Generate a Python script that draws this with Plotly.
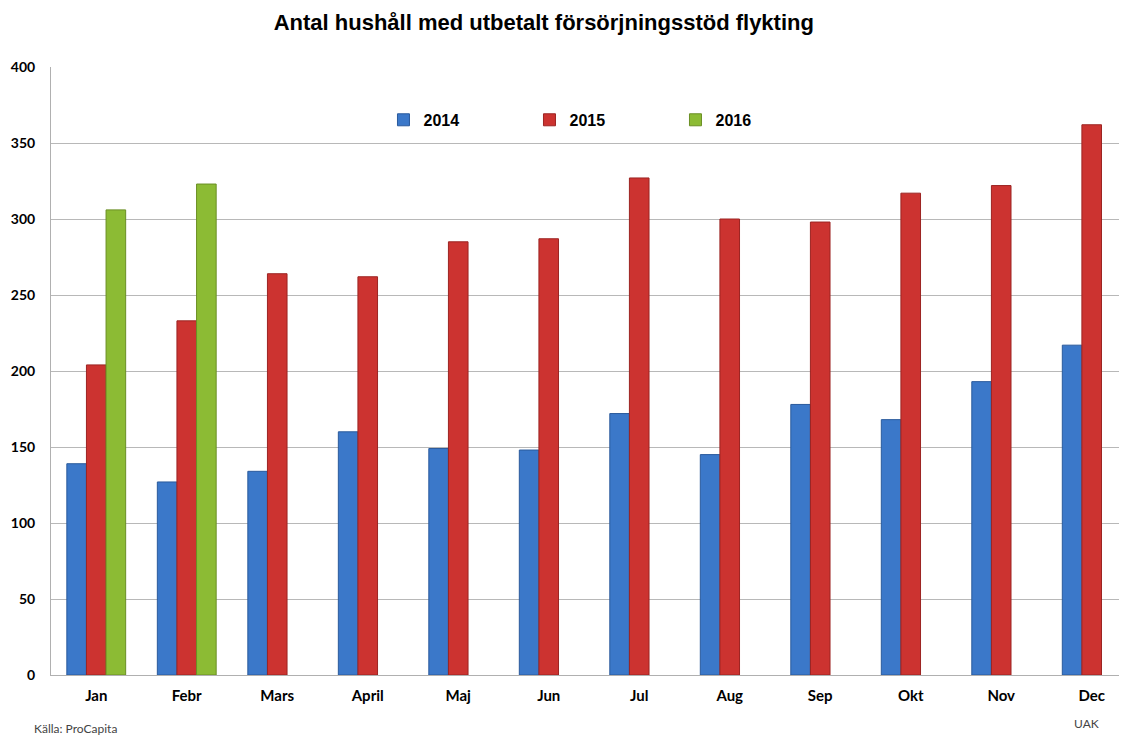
import plotly.graph_objects as go

# månader och antal hushåll per år
manader = ["Jan", "Febr", "Mars", "April", "Maj", "Jun", "Jul", "Aug", "Sep", "Okt", "Nov", "Dec"]
ar_2014 = [139, 127, 134, 160, 149, 148, 172, 145, 178, 168, 193, 217]
ar_2015 = [204, 233, 264, 262, 285, 287, 327, 300, 298, 317, 322, 362]
ar_2016 = [306, 323, None, None, None, None, None, None, None, None, None, None]

serier = [
    ("2014", ar_2014, "#3b78c9", "#2a5a9c"),
    ("2015", ar_2015, "#cc3330", "#9c2422"),
    ("2016", ar_2016, "#8cbb34", "#6a8f24"),
]

fig = go.Figure()
for namn, varden, farg, kant in serier:
    fig.add_trace(go.Bar(
        x=manader,
        y=varden,
        name=namn,
        marker=dict(color=farg, line=dict(color=kant, width=1)),
    ))

# sidan har 8px marginal i webbläsaren, så allt flyttas 8px upp/vänster
fig.update_layout(
    width=1127,
    height=736,
    template="simple_white",
    paper_bgcolor="white",
    plot_bgcolor="white",
    margin=dict(l=43, r=8, t=59, b=69),
    barmode="group",
    bargap=0.35,
    bargroupgap=0.0,
    title=dict(
        text="<b>Antal hushåll med utbetalt försörjningsstöd flykting</b>",
        x=0.458, xref="paper", xanchor="center",
        y=0.981, yref="container", yanchor="middle",
        font=dict(family="Liberation Sans, Arial, sans-serif", size=22, color="black"),
    ),
    legend=dict(
        orientation="h",
        x=0.309, xanchor="left",
        y=0.913, yanchor="middle",
        font=dict(family="Liberation Sans, Arial, sans-serif", size=16, color="black", weight="bold"),
        entrywidth=101,
        entrywidthmode="pixels",
        bgcolor="rgba(0,0,0,0)",
    ),
    showlegend=True,
)

fig.update_xaxes(
    range=[-0.5, 11.39],
    automargin=False,
    showline=True, linecolor="#b0b0b0", linewidth=1,
    ticks="", ticklabelstandoff=7,
    tickfont=dict(family="Lato, sans-serif", size=15, color="black", weight="bold"),
)
fig.update_yaxes(
    range=[0, 400], dtick=50,
    automargin=False,
    showline=True, linecolor="#b0b0b0", linewidth=1,
    showgrid=True, gridcolor="#b8b8b8", gridwidth=1,
    ticks="", ticklabelstandoff=12,
    tickfont=dict(family="Lato, sans-serif", size=14, color="black", weight="bold"),
)

fig.add_annotation(
    text="Källa: ProCapita", xref="paper", yref="paper",
    x=-0.0177, y=-0.0888, xanchor="left", yanchor="middle", showarrow=False,
    font=dict(family="Lato, sans-serif", size=12, color="#444444"),
)
fig.add_annotation(
    text="UAK", xref="paper", yref="paper",
    x=0.962, y=-0.079, xanchor="center", yanchor="middle", showarrow=False,
    font=dict(family="Lato, sans-serif", size=12, color="#444444"),
)

fig.write_html("out.html")
